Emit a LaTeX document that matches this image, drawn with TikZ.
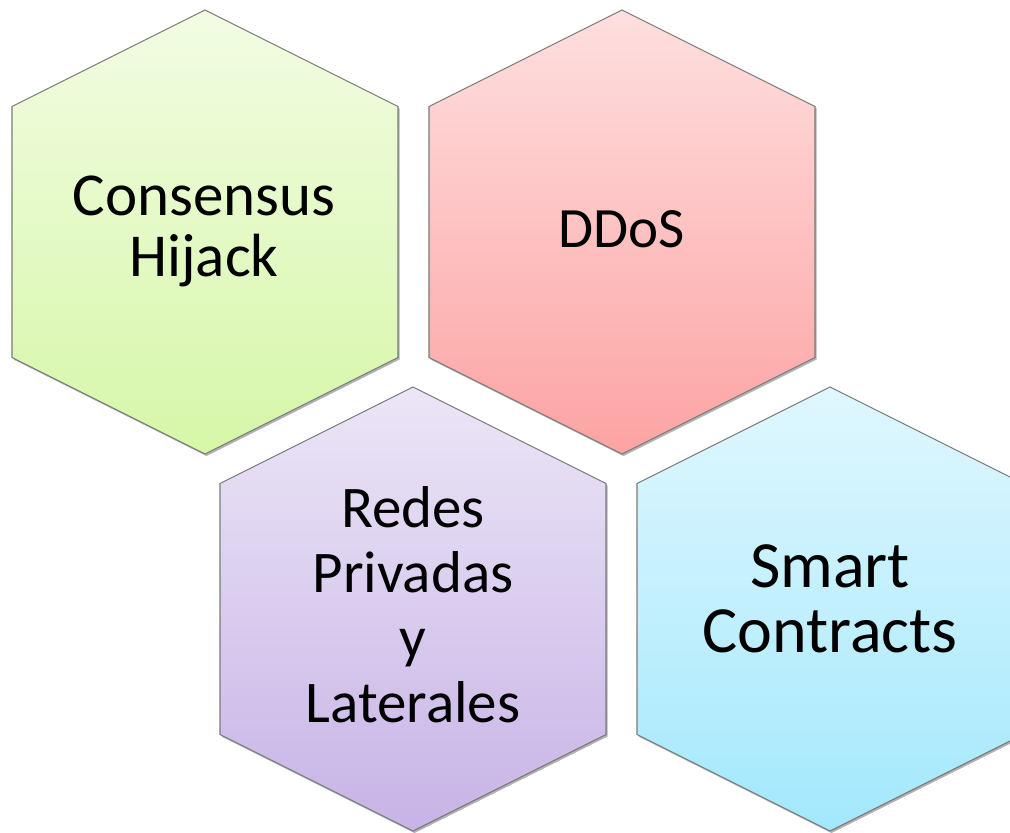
\documentclass[tikz,border=0pt]{standalone}
\usepackage{fontspec}
\setmainfont{Carlito}
\usetikzlibrary{shadows}
\definecolor{gtop}{HTML}{F2FCE3}
\definecolor{gbot}{HTML}{D6F7A8}
\definecolor{rtop}{HTML}{FEDFDF}
\definecolor{rbot}{HTML}{FDA3A3}
\definecolor{ptop}{HTML}{ECE6F7}
\definecolor{pbot}{HTML}{C7B3E6}
\definecolor{btop}{HTML}{E0F7FE}
\definecolor{bbot}{HTML}{A3E8FD}
\definecolor{edge}{HTML}{7A7A7A}
\tikzset{
  hexbox/.style={draw=edge, line width=1.1pt, line join=miter,
    drop shadow={shadow xshift=1.5pt, shadow yshift=-2pt, opacity=0.3, fill=black}},
  lbl/.style={anchor=base, inner sep=0pt, text=black},
}
\newcommand{\hexpath}[2]{(#1,#2-222) -- (#1+193,#2-125.5) -- (#1+193,#2+125.5) -- (#1,#2+222) -- (#1-193,#2+125.5) -- (#1-193,#2-125.5) -- cycle}
\begin{document}
\begin{tikzpicture}[x=1pt,y=-1pt]
\useasboundingbox (0,0) rectangle (1010,833);
\clip (0,0) rectangle (1010,833);
% hexagons
\path[hexbox, top color=gtop, bottom color=gbot] \hexpath{205}{232};
\path[hexbox, top color=rtop, bottom color=rbot] \hexpath{622}{232};
\path[hexbox, top color=ptop, bottom color=pbot] \hexpath{413}{609};
\path[hexbox, top color=btop, bottom color=bbot] \hexpath{830}{609};
% labels
\node[lbl, font=\fontsize{61}{61}\selectfont] (ch1) at (204,215) {Consensus};
\node[lbl, font=\fontsize{61}{61}\selectfont] (ch2) at (204,276) {Hijack};
\node[lbl, font=\fontsize{57}{57}\selectfont] (dd) at (622,247) {DDoS};
\node[lbl, font=\fontsize{59}{59}\selectfont] (rp1) at (413,527) {Redes};
\node[lbl, font=\fontsize{59}{59}\selectfont] (rp2) at (413,592) {Privadas};
\node[lbl, font=\fontsize{59}{59}\selectfont] (rp3) at (413,657) {y};
\node[lbl, font=\fontsize{59}{59}\selectfont] (rp4) at (413,722) {Laterales};
\node[lbl, font=\fontsize{66}{66}\selectfont] (sc1) at (830,587) {Smart};
\node[lbl, font=\fontsize{66}{66}\selectfont] (sc2) at (830,652) {Contracts};
\end{tikzpicture}
\end{document}
